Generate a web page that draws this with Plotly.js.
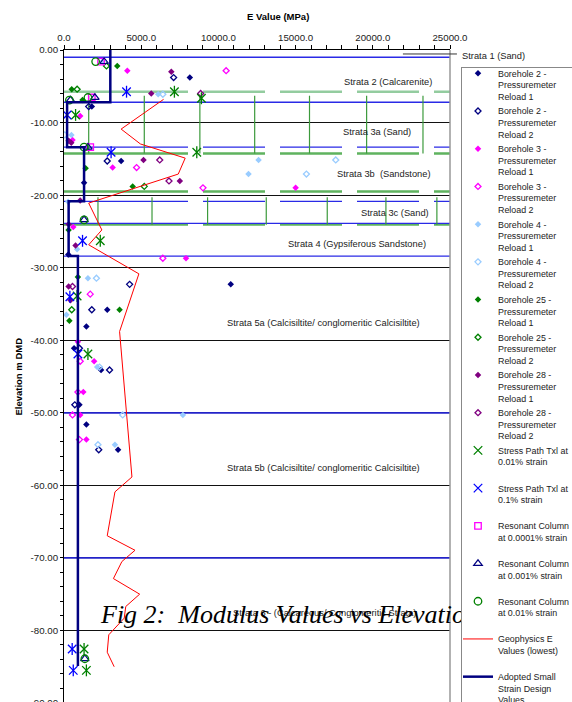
<!DOCTYPE html>
<html><head><meta charset="utf-8">
<script src="https://cdn.plot.ly/plotly-3.0.1.min.js"></script>
<style>html,body{margin:0;padding:0;overflow:hidden;background:#fff}#chart{width:572px;height:720px}</style>
</head><body><div id="chart"></div>
<script>
// ---------- data (E in MPa, elevation in m DMD) ----------
const bh2r1E = [8150,1800,3700,1300,280,10800,2800,1450,650,2400,1000,1450,3500];
const bh2r1Z = [-3.8,-7.8,-15.3,-18.3,-28.2,-32.3,-35.8,-38.1,-41.1,-44.1,-48.9,-51.6,-55.1];
const bh2r2E = [7100,1600,2800,4250,1800,1000,2950,700,2250];
const bh2r2Z = [-3.8,-7.8,-15.3,-32.3,-35.8,-41.1,-44.1,-48.9,-55.1];
const bh3r1E = [4100,1050,550,3150,15000,600,7900,900,1950,1250,1050,1450];
const bh3r1Z = [-2.85,-9.1,-12.4,-16.2,-19.0,-24.4,-28.7,-40.2,-42.9,-47.15,-50.3,-53.7];
const bh3r2E = [10500,4700,9000,6400,1700,1050,900,550,1000];
const bh3r2Z = [-2.85,-16.2,-19.0,-28.7,-33.65,-42.9,-47.15,-50.3,-53.7];
const bh4r1E = [2500,6100,480,12600,11950,270,850,1550,150,2150,7700,3300];
const bh4r1Z = [-1.6,-6.1,-11.7,-15.15,-17.1,-20.9,-27.45,-31.45,-36.5,-43.7,-50.3,-54.4];
const bh4r2E = [6400,50,17600,15700,2100,2300,3800,2200];
const bh4r2Z = [-6.1,-11.7,-15.15,-17.1,-31.45,-43.7,-50.3,-54.4];
const bh25r1E = [3450,500,1200,1400,4450,300,900,3600,350];
const bh25r1Z = [-2.2,-5.4,-6.9,-16.3,-18.8,-24.8,-31.3,-35.8,-37.3];
const bh25r2E = [2750,850,5200,500];
const bh25r2Z = [-2.2,-5.4,-18.8,-35.8];
const bh28r1E = [6950,5650,300,470,5150,7500,1050,300,750,300,420];
const bh28r1Z = [-3.0,-6.0,-12.5,-12.8,-15.15,-18.05,-20.75,-24.0,-26.95,-32.6,-34.5];
const bh28r2E = [8850,6200,6800,550];
const bh28r2Z = [-6.0,-15.15,-18.05,-32.6];
const sp001E = [7150,8900,750,8600,2350,850,1550,1300,1450];
const sp001Z = [-5.75,-6.65,-8.95,-14.1,-26.3,-33.9,-41.9,-82.55,-85.5];
const sp01E = [4050,200,3050,1200,380,900,530,600];
const sp01Z = [-5.75,-8.95,-14.1,-26.3,-34.0,-41.9,-82.55,-85.5];
const rc0001E = [2400,1800,1700];
const rc0001Z = [-1.6,-6.55,-13.4];
const rc001E = [2600,420,2000,1550,1300,1350];
const rc001Z = [-1.6,-6.9,-6.55,-13.4,-23.4,-83.9];
const rc01E = [2050,350,1550,1300,1300,1350];
const rc01Z = [-1.6,-6.9,-6.55,-13.4,-23.4,-83.9];
const geoE = [6450,3700,4950,7850,7400,1600,2450,1600,4850,3600,4400,3300,2800,4600,3750,3200,4900,4000,3900,2900,2800,3250];
const geoZ = [-6.8,-10.9,-12.95,-14.9,-17.1,-21.1,-24.8,-26.85,-30.85,-38.8,-58.85,-60.9,-66.95,-68.95,-70.5,-72.85,-75.0,-76.7,-78.3,-80.6,-83.0,-85.0];
const adoptedE = [3000,3000,200,200,1300,1300,300,300,900,900];
const adoptedZ = [0,-7.2,-7.2,-13.4,-13.4,-20.85,-20.85,-28.4,-28.4,-84.9];

// strata boundaries
const xSpan = [0, 25000];
const blueSolidZ = [-1.0,-7.2,-23.9,-28.4,-50,-70];
const blueDashZ = [-13.4,-20.85];
const greenDashZ = [-5.75,-14.25,-19.5,-24.05];
const green3aX = [1600,5200,8800,12350,15900,19600,23250];
const green3aZ = [-6.3,-14.25];
const green3cX = [2200,5700,9300,13100,17050,20850,24150];
const green3cZ = [-20.3,-24.1];

const strataLabels = ['Strata 2 (Calcarenite)','Strata 3a (Sand)','Strata 3b&nbsp; (Sandstone)','Strata 3c (Sand)',
  'Strata 4 (Gypsiferous Sandstone)','Strata 5a (Calcisiltite/ conglomeritic Calcisiltite)',
  'Strata 5b (Calcisiltite/ conglomeritic Calcisiltite)','Strata 6 - (Calcareous/ Conglomeritic Strata)'];
const strataLabelE = [21000,20300,20700,21450,19000,16800,16800,16850];
const strataLabelZ = [-4.4,-11.3,-17.1,-22.4,-26.7,-37.65,-57.6,-77.6];

const xTickVals = [0,5000,10000,15000,20000,25000];
const xTickText = ['0.0','5000.0','10000.0','15000.0','20000.0','25000.0'];
const yTickVals = [0,-10,-20,-30,-40,-50,-60,-70,-80,-90];
const yTickText = ['0.00','-10.00','-20.00','-30.00','-40.00','-50.00','-60.00','-70.00','-80.00','-90.00'];

// ---------- build ----------
const FONT = 'Liberation Sans, Arial, sans-serif';
const DASH = '124px,15px,62px,15px,62px,15px,62px,15px,62px,15px';
const traces = [];
function hline(z, color, width, dash) {
  traces.push({type:'scatter', mode:'lines', x:xSpan, y:[z,z], showlegend:false, hoverinfo:'skip',
    line:{color:color, width:width, dash:dash||'solid'}});
}
greenDashZ.forEach((z,i) => hline(z, i===0 ? '#93cc9f' : '#5fb35f', 2.5, DASH));
blueSolidZ.forEach(z => hline(z, (z===-50||z===-70) ? '#2323c8' : '#2a2ae6', (z===-50||z===-70)?1.8:1.3));
blueDashZ.forEach(z => hline(z, '#2a2ae6', 1.3, DASH));
function vlines(xs, zs) {
  const x = [], y = [];
  xs.forEach(v => { x.push(v, v, null); y.push(zs[0], zs[1], null); });
  traces.push({type:'scatter', mode:'lines', x:x, y:y, showlegend:false, hoverinfo:'skip',
    line:{color:'#3c9a3c', width:1.2}});
}
vlines(green3aX, green3aZ);
vlines(green3cX, green3cZ);

function pts(name, x, y, symbol, color, size, lw, legend) {
  traces.push({type:'scatter', mode:'markers', name:name, x:x, y:y, showlegend:legend!==false,
    marker:{symbol:symbol, color:color, size:size, line:{color:color, width:lw}}});
}
pts('Borehole 2 -<br>Pressuremeter<br>Reload 1', bh2r1E, bh2r1Z, 'diamond', '#000080', 5, 0);
pts('Borehole 2 -<br>Pressuremeter<br>Reload 2', bh2r2E, bh2r2Z, 'diamond-open', '#000080', 4.6, 1.3);
pts('Borehole 3 -<br>Pressuremeter<br>Reload 1', bh3r1E, bh3r1Z, 'diamond', '#ff00ff', 5, 0);
pts('Borehole 3 -<br>Pressuremeter<br>Reload 2', bh3r2E, bh3r2Z, 'diamond-open', '#ff00ff', 4.6, 1.3);
pts('Borehole 4 -<br>Pressuremeter<br>Reload 1', bh4r1E, bh4r1Z, 'diamond', '#99ccff', 5, 0);
pts('Borehole 4 -<br>Pressuremeter<br>Reload 2', bh4r2E, bh4r2Z, 'diamond-open', '#99ccff', 4.6, 1.3);
pts('Borehole 25 -<br>Pressuremeter<br>Reload 1', bh25r1E, bh25r1Z, 'diamond', '#008000', 5, 0);
pts('Borehole 25 -<br>Pressuremeter<br>Reload 2', bh25r2E, bh25r2Z, 'diamond-open', '#008000', 4.6, 1.3);
pts('Borehole 28 -<br>Pressuremeter<br>Reload 1', bh28r1E, bh28r1Z, 'diamond', '#800080', 5, 0);
pts('Borehole 28 -<br>Pressuremeter<br>Reload 2', bh28r2E, bh28r2Z, 'diamond-open', '#800080', 4.6, 1.3);
pts('Stress Path Txl at<br>0.01% strain<br> ', sp001E, sp001Z, 'x-thin-open', '#008000', 8.5, 1.3);
pts('', sp001E, sp001Z, 'line-ns-open', '#008000', 8.5, 1.3, false);
pts('Stress Path Txl at<br>0.1% strain<br> ', sp01E, sp01Z, 'x-thin-open', '#0000ff', 8.5, 1.3);
pts('', sp01E, sp01Z, 'line-ns-open', '#0000ff', 8.5, 1.3, false);
pts('Resonant Column<br>at 0.0001% strain<br> ', rc0001E, rc0001Z, 'square-open', '#ff00ff', 6.5, 1.3);
pts('Resonant Column<br>at 0.001% strain<br> ', rc001E, rc001Z, 'triangle-up-open', '#000080', 7.5, 1.2);
pts('Resonant Column<br>at 0.01% strain<br> ', rc01E, rc01Z, 'circle-open', '#008000', 7.5, 1.3);
traces.push({type:'scatter', mode:'lines', name:'Geophysics E<br>Values (lowest)<br> ', x:geoE, y:geoZ,
  line:{color:'#ff0000', width:1}});
traces.push({type:'scatter', mode:'lines', name:'Adopted Small<br>Strain Design<br>Values', x:adoptedE, y:adoptedZ,
  line:{color:'#000080', width:2.5}});

const annotations = strataLabels.map((t,i) => ({text:t, x:strataLabelE[i], y:strataLabelZ[i], xref:'x', yref:'y',
  showarrow:false, font:{family:FONT, size:9.3, color:'#222'}}));
annotations.push({text:'Strata 1 (Sand)', xref:'paper', yref:'paper', x:1.026, y:0.9913, xanchor:'left', yanchor:'middle',
  showarrow:false, font:{family:FONT, size:9.3, color:'#222'}});
annotations.push({text:'<b>E Value (MPa)</b>', xref:'paper', yref:'paper', x:0.554, y:1.052, xanchor:'center', yanchor:'middle',
  showarrow:false, font:{family:FONT, size:9.5, color:'#000'}});
annotations.push({text:'<b>Elevation m DMD</b>', xref:'paper', yref:'paper', x:-0.119, y:0.5, textangle:-90,
  xanchor:'center', yanchor:'middle',
  showarrow:false, font:{family:FONT, size:9.5, color:'#000'}});
annotations.push({text:'<i>Fig 2:&nbsp; Modulus Values vs Elevation</i>', xref:'paper', yref:'paper', x:0.088, y:0.1361,
  xanchor:'left', yanchor:'middle', showarrow:false, font:{family:'Liberation Serif, Times New Roman, serif', size:26, color:'#000'}});

const layout = {
  width:572, height:720, paper_bgcolor:'#fff', plot_bgcolor:'#fff',
  margin:{l:64, r:122, t:50, b:17, autoexpand:false},
  showlegend:true,
  legend:{x:1.0285, xanchor:'left', y:0.9744, yanchor:'top', bgcolor:'#fff', bordercolor:'#888', borderwidth:1,
    font:{family:FONT, size:8.9, color:'#222'}, valign:'top', itemwidth:30, maxheight:2000, tracegroupgap:0},
  xaxis:{side:'top', range:[0,25000], tickmode:'array', tickvals:xTickVals, ticktext:xTickText,
    showgrid:false, zeroline:false, showline:true, linecolor:'#000', linewidth:1,
    ticks:'outside', ticklen:4, tickcolor:'#000', tickfont:{family:FONT, size:9.7, color:'#222'},
    minor:{tickmode:'linear', tick0:0, dtick:1000, ticks:'outside', ticklen:4, tickcolor:'#000', showgrid:false}},
  yaxis:{range:[-90,0], tickmode:'array', tickvals:yTickVals, ticktext:yTickText,
    showgrid:true, gridcolor:'#111', gridwidth:1, zeroline:false, showline:true, linecolor:'#000', linewidth:1,
    ticks:'outside', ticklen:3, tickcolor:'#000', tickfont:{family:FONT, size:9.7, color:'#222'},
    minor:{tickmode:'linear', tick0:0, dtick:2, ticks:'outside', ticklen:3, tickcolor:'#000', showgrid:false}},
  shapes:[
    {type:'line', xref:'paper', yref:'paper', x0:1, x1:1, y0:0, y1:1, line:{color:'#999', width:1.5}, layer:'above'},
    {type:'line', xref:'paper', yref:'paper', x0:0.878, x1:1.018, y0:0.9939, y1:0.9939, line:{color:'#333', width:1}, layer:'above'}
  ],
  annotations:annotations
};

Plotly.newPlot('chart', traces, layout, {staticPlot:true, displayModeBar:false}).then(gd => {
  const leg = gd.querySelector('g.legend');
  if (leg) {
    leg.parentNode.appendChild(leg);
    const sb = leg.querySelector('g.scrollbox');
    if (sb) sb.setAttribute('transform', 'translate(-4,-6.7)');
  }
});
</script></body></html>
